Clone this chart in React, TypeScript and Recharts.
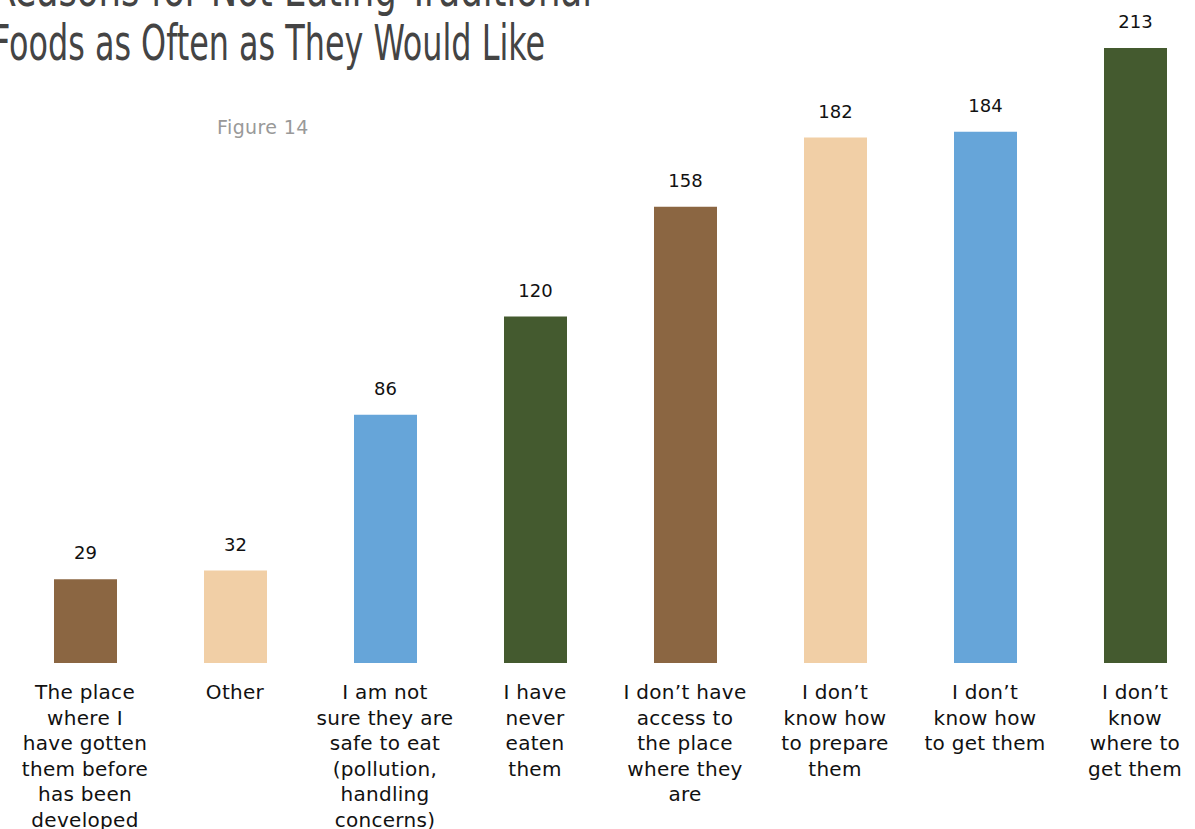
import React from "react";
import { BarChart, Bar, XAxis, YAxis, Cell, LabelList } from "recharts";

const categories = [
  "The place\nwhere I\nhave gotten\nthem before\nhas been\ndeveloped",
  "Other",
  "I am not\nsure they are\nsafe to eat\n(pollution,\nhandling\nconcerns)",
  "I have\nnever\neaten\nthem",
  "I don’t have\naccess to\nthe place\nwhere they\nare",
  "I don’t\nknow how\nto prepare\nthem",
  "I don’t\nknow how\nto get them",
  "I don’t\nknow\nwhere to\nget them",
];

const counts = [29, 32, 86, 120, 158, 182, 184, 213];

const barColors = ["#8B6642", "#F1CFA6", "#66A5D9", "#445A2F"];

const data = categories.map((name, i) => ({ name, value: counts[i] }));

const FONT = "'DejaVu Sans', sans-serif";

const CategoryTick = (props: any) => {
  const { x, y, payload } = props;
  const lines: string[] = String(payload.value).split("\n");
  return (
    <text
      x={x}
      y={y + 28}
      textAnchor="middle"
      fill="#111"
      fontSize={20}
      letterSpacing={0.3}
      fontFamily={FONT}
    >
      {lines.map((line, i) => (
        <tspan key={i} x={x} dy={i === 0 ? 0 : 25.5}>
          {line}
        </tspan>
      ))}
    </text>
  );
};

export default function App() {
  return (
    <div
      style={{
        position: "absolute",
        left: 0,
        top: 0,
        width: 1195,
        height: 829,
        overflow: "hidden",
        background: "#fff",
      }}
    >
      <BarChart
        width={1220}
        height={829}
        data={data}
        margin={{ top: 48, right: 10, left: 10, bottom: 0 }}
      >
        <XAxis
          dataKey="name"
          axisLine={false}
          tickLine={false}
          height={166}
          interval={0}
          tick={<CategoryTick />}
        />
        <YAxis hide domain={[0, 213]} />
        <Bar dataKey="value" barSize={63} isAnimationActive={false}>
          {data.map((_, i) => (
            <Cell key={i} fill={barColors[i % barColors.length]} />
          ))}
          <LabelList
            dataKey="value"
            position="top"
            offset={20}
            fill="#111"
            fontSize={18}
            fontFamily={FONT}
          />
        </Bar>
      </BarChart>
      <svg
        width={1195}
        height={160}
        style={{ position: "absolute", left: 0, top: 0, pointerEvents: "none" }}
      >
        <text
          x={-8}
          y={6}
          fill="#444"
          fontSize={50}
          fontFamily="'Liberation Sans Narrow', 'DejaVu Sans Condensed', sans-serif"
          textLength={600}
          lengthAdjust="spacingAndGlyphs"
        >
          Reasons for Not Eating Traditional
        </text>
        <text
          x={-8}
          y={60}
          fill="#444"
          fontSize={50}
          fontFamily="'Liberation Sans Narrow', 'DejaVu Sans Condensed', sans-serif"
          textLength={553}
          lengthAdjust="spacingAndGlyphs"
        >
          Foods as Often as They Would Like
        </text>
        <text
          x={217}
          y={134}
          fill="#999"
          fontSize={19}
          letterSpacing={0.4}
          fontFamily={FONT}
        >
          Figure 14
        </text>
      </svg>
    </div>
  );
}
